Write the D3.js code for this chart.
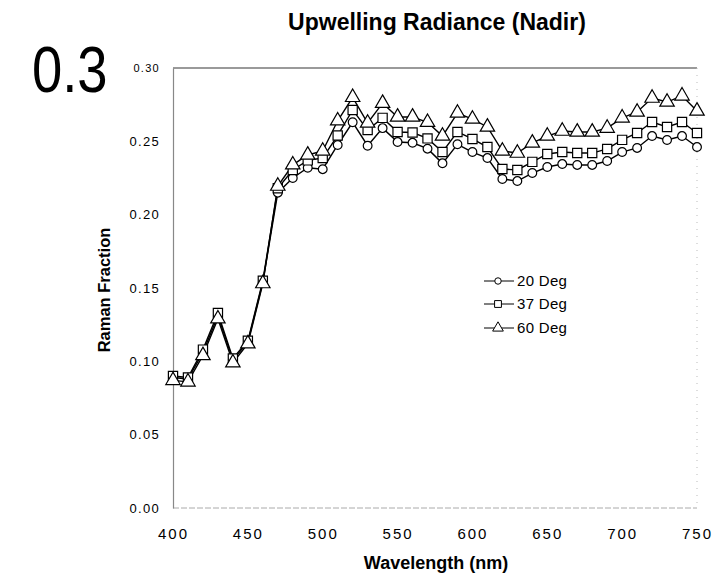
<!DOCTYPE html>
<html><head><meta charset="utf-8">
<script src="https://cdn.jsdelivr.net/npm/d3@7"></script>
<style>
body{margin:0;background:#fff;}
svg text{font-family:"Liberation Sans",Arial,Helvetica,sans-serif;}
</style></head>
<body><svg id="c" width="714" height="577"></svg>
<script>
const wavelengths = [400,410,420,430,440,450,460,470,480,490,500,510,520,530,540,550,560,570,580,590,600,610,620,630,640,650,660,670,680,690,700,710,720,730,740,750];
const deg20 = [0.089,0.088,0.106,0.131,0.101,0.113,0.154,0.215,0.225,0.232,0.231,0.2475,0.263,0.247,0.259,0.2495,0.249,0.245,0.235,0.248,0.2427,0.2386,0.2243,0.2229,0.2284,0.2325,0.2345,0.2339,0.2339,0.2366,0.2427,0.2455,0.2536,0.2509,0.2536,0.2461];
const deg37 = [0.090,0.089,0.108,0.133,0.102,0.114,0.155,0.218,0.2305,0.237,0.2386,0.254,0.2714,0.2577,0.266,0.2564,0.256,0.252,0.2427,0.2564,0.2516,0.2461,0.2311,0.2305,0.236,0.2414,0.2427,0.242,0.242,0.2448,0.251,0.2557,0.2632,0.2598,0.2632,0.2557];
const deg60 = [0.087,0.086,0.104,0.129,0.099,0.112,0.153,0.2195,0.234,0.2407,0.2434,0.264,0.280,0.2625,0.276,0.2666,0.2666,0.263,0.2536,0.2693,0.2652,0.2598,0.2434,0.242,0.2489,0.2536,0.257,0.2564,0.2564,0.259,0.266,0.270,0.2795,0.2768,0.281,0.2707];
const seriesNames = ["20 Deg","37 Deg","60 Deg"];
const xTicks = [400,450,500,550,600,650,700,750];
const yTicks = [0.00,0.05,0.10,0.15,0.20,0.25,0.30];

const svg = d3.select("#c");
const L=173,R=697,T=68,B=508;
const x = d3.scaleLinear().domain([400,750]).range([L,R]);
const y = d3.scaleLinear().domain([0,0.30]).range([B,T]);

// title
svg.append("text").attr("x",437).attr("y",30).attr("text-anchor","middle")
  .attr("font-size",23).attr("font-weight","bold").text("Upwelling Radiance (Nadir)");
svg.append("text").attr("transform","translate(32,92) scale(0.85,1)").attr("font-size",64).text("0.3");

// frame
svg.append("line").attr("x1",L).attr("x2",R).attr("y1",T).attr("y2",T).attr("stroke","#9a9a9a").attr("stroke-width",2);
svg.append("line").attr("x1",R).attr("x2",R).attr("y1",T).attr("y2",B).attr("stroke","#bbb").attr("stroke-width",1).attr("stroke-dasharray","1,6");
svg.append("line").attr("x1",L).attr("x2",R).attr("y1",B).attr("y2",B).attr("stroke","#aaa").attr("stroke-width",1).attr("stroke-dasharray","6,2");

const yAxis = svg.append("g").attr("transform",`translate(${L},0)`)
  .call(d3.axisLeft(y).tickValues(yTicks).tickSize(0).tickPadding(13).tickFormat(d3.format(".2f")));
yAxis.select(".domain").attr("stroke","#888").attr("stroke-width",1.2);
yAxis.selectAll("text").attr("font-size",d=>d===0.30?11:13).attr("letter-spacing",1.3).attr("fill","#000");

const xAxis = svg.append("g").attr("transform",`translate(0,${B})`)
  .call(d3.axisBottom(x).tickValues(xTicks).tickSize(0).tickPadding(20).tickFormat(d3.format("d")));
xAxis.select(".domain").remove();
xAxis.selectAll("text").attr("font-size",15).attr("letter-spacing",2).attr("fill","#000");

svg.append("text").attr("x",436).attr("y",569).attr("text-anchor","middle")
  .attr("font-size",18).attr("font-weight","bold").text("Wavelength (nm)");
svg.append("text").attr("transform","translate(110,290) rotate(-90)").attr("text-anchor","middle")
  .attr("font-size",16.5).attr("font-weight","bold").text("Raman Fraction");

const data = [deg20,deg37,deg60];
const line = d3.line().x((d,i)=>x(wavelengths[i])).y(d=>y(d));
const sym = [d3.symbolCircle,d3.symbolSquare,d3.symbolTriangle];
const symSize = [60,85,90];

data.forEach((vals,k)=>{
  svg.append("path").datum(vals).attr("d",line).attr("fill","none").attr("stroke","#000").attr("stroke-width",1.4);
});
data.forEach((vals,k)=>{
  svg.append("g").selectAll("path").data(vals).join("path")
    .attr("transform",(d,i)=>`translate(${x(wavelengths[i])},${y(d)})`)
    .attr("d",d3.symbol().type(sym[k]).size(symSize[k]))
    .attr("fill","#fff").attr("stroke","#000").attr("stroke-width",1.2);
});

// legend
const ly=[281,304,328];
seriesNames.forEach((n,k)=>{
  svg.append("line").attr("x1",484).attr("x2",514).attr("y1",ly[k]).attr("y2",ly[k]).attr("stroke","#000").attr("stroke-width",1);
  svg.append("path").attr("transform",`translate(498,${ly[k]})`).attr("d",d3.symbol().type(sym[k]).size(symSize[k]*0.55))
    .attr("fill","#fff").attr("stroke","#000").attr("stroke-width",1);
  svg.append("text").attr("x",517).attr("y",ly[k]+5).attr("font-size",15).attr("letter-spacing",0.3).text(n);
});
</script></body></html>
